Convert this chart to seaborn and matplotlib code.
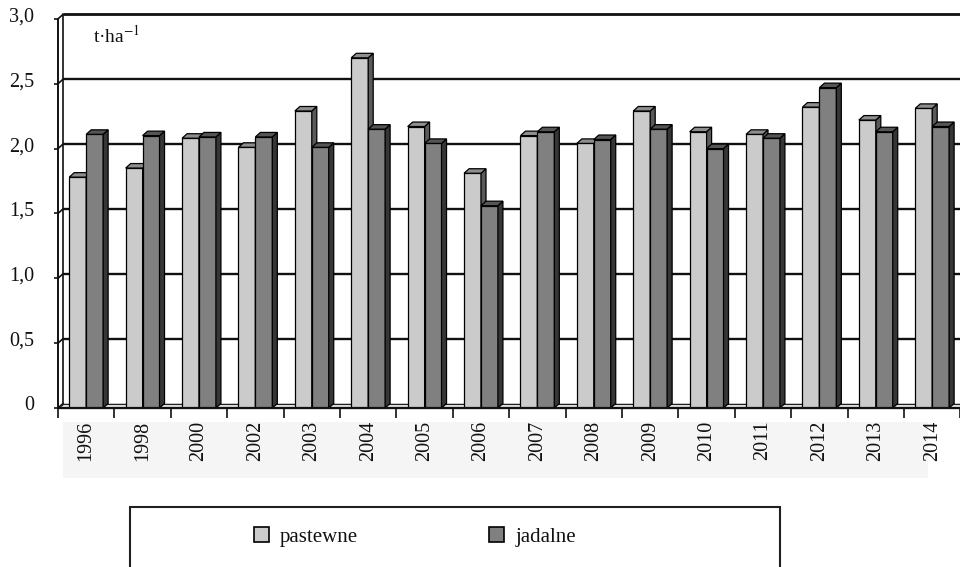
import numpy as np
import pandas as pd
import matplotlib
matplotlib.use("Agg")
import matplotlib.pyplot as plt
import matplotlib.transforms as mtransforms
from matplotlib.patches import Polygon, Rectangle, Patch
import seaborn as sns

# Yields (t/ha) by year for the two groups
years = ["1996", "1998", "2000", "2002", "2003", "2004", "2005", "2006",
         "2007", "2008", "2009", "2010", "2011", "2012", "2013", "2014"]
pastewne = [1.78, 1.85, 2.08, 2.01, 2.29, 2.70, 2.17, 1.81,
            2.10, 2.04, 2.29, 2.13, 2.11, 2.32, 2.22, 2.31]
jadalne = [2.11, 2.10, 2.09, 2.09, 2.01, 2.15, 2.04, 1.56,
           2.13, 2.07, 2.15, 2.00, 2.08, 2.47, 2.13, 2.17]
series = ["pastewne", "jadalne"]
y_ticks = [0, 0.5, 1.0, 1.5, 2.0, 2.5, 3.0]
y_tick_labels = ["0", "0,5", "1,0", "1,5", "2,0", "2,5", "3,0"]
unit_label = "t·ha$^{-1}$"

front_colors = {"pastewne": "#cbcbcb", "jadalne": "#808080"}
top_colors = {"pastewne": "#8e8e8e", "jadalne": "#555555"}
side_colors = {"pastewne": "#5a5a5a", "jadalne": "#363636"}

df = pd.DataFrame({
    "rok": years * 2,
    "plon": pastewne + jadalne,
    "rodzaj": ["pastewne"] * len(years) + ["jadalne"] * len(years),
})

sns.set_theme(style="white")
plt.rcParams["font.family"] = ["Liberation Serif", "DejaVu Serif"]
plt.rcParams["mathtext.fontset"] = "stix"

W, H = 960, 567
fig = plt.figure(figsize=(W / 100, H / 100), dpi=100)
# plot area in pixels: x from 58 to 960.4, front floor at y=408, top at 18.9
ax = fig.add_axes([58 / W, (H - 408) / H, 902.4 / W, 389.1 / H])

sns.barplot(data=df, x="rok", y="plon", hue="rodzaj", order=years,
            hue_order=series, palette=front_colors, width=0.6,
            saturation=1, edgecolor="black", linewidth=0.9,
            legend=False, ax=ax, zorder=3)

n = len(years)
ax.set_xlim(-0.5, n - 0.5)
ax.set_ylim(0, 3)
for s in ax.spines.values():
    s.set_visible(False)
ax.set_xlabel("")
ax.set_ylabel("")

# perspective depth (5 px right, 4.5 px up) in data units
DX = 5.0 / (902.4 / n)
DY = 4.5 / (389.1 / 3)
xr = n + 1.0  # walls run past the right edge of the figure

# back wall gridlines
for yv in y_ticks:
    lw = 2.0 if yv == 3.0 else (1.0 if yv == 0 else 1.7)
    ax.plot([-0.5 + DX, xr], [yv + DY, yv + DY], color="#111111", lw=lw,
            clip_on=False, zorder=1, solid_capstyle="butt")
    # connectors on the left side wall
    ax.plot([-0.5, -0.5 + DX], [yv, yv + DY], color="#111111", lw=1.2,
            clip_on=False, zorder=1)
# left side wall edges
ax.plot([-0.5, -0.5], [0, 3], color="#111111", lw=1.4, clip_on=False, zorder=1)
ax.plot([-0.5 + DX, -0.5 + DX], [DY, 3 + DY], color="#111111", lw=1.2,
        clip_on=False, zorder=1)
# floor strip
ax.add_patch(Polygon([(-0.5, 0), (xr, 0), (xr, DY), (-0.5 + DX, DY)],
                     closed=True, facecolor="#e6e6e6", edgecolor="#202020",
                     lw=0.8, clip_on=False, zorder=1.5))

# side and top faces of every bar
for k, (cont, name) in enumerate(zip(ax.containers, series)):
    for bar in cont:
        x0 = bar.get_x()
        x1 = x0 + bar.get_width()
        h = bar.get_height()
        bar.set_zorder(3 + 2 * k)
        side = Polygon([(x1, 0), (x1 + DX, DY), (x1 + DX, h + DY), (x1, h)],
                       closed=True, facecolor=side_colors[name],
                       edgecolor="black", lw=0.9, zorder=3.5 + 2 * k)
        top = Polygon([(x0, h), (x1, h), (x1 + DX, h + DY), (x0 + DX, h + DY)],
                      closed=True, facecolor=top_colors[name],
                      edgecolor="black", lw=0.9, zorder=3.6 + 2 * k)
        ax.add_patch(side)
        ax.add_patch(top)

# front floor edge (x axis)
ax.plot([-0.5, xr], [0, 0], color="#111111", lw=1.6, clip_on=False, zorder=8)

# ticks and labels
ax.set_xticks(range(n))
ax.set_xticklabels(years, rotation=90, fontsize=14.5)
ax.set_xticks(np.arange(-0.5, n, 1.0), minor=True)
ax.tick_params(axis="x", which="major", length=0, pad=9)
ax.tick_params(axis="x", which="minor", length=7, width=1.2, color="#111111",
               direction="out", bottom=True)
ax.set_yticks(y_ticks)
ax.set_yticklabels(y_tick_labels, fontsize=14.5)
ax.tick_params(axis="y", which="major", length=3, width=1.2, color="#111111",
               direction="out", left=True, pad=14)
shift = mtransforms.ScaledTranslation(0, 4.5 / 100, fig.dpi_scale_trans)
for lab in ax.get_yticklabels():
    lab.set_transform(lab.get_transform() + shift)
for lab in ax.get_xticklabels() + ax.get_yticklabels():
    lab.set_color("#111111")

# unit label
ax.text(0.12, 2.87, unit_label, fontsize=14, color="#111111",
        ha="left", va="center", zorder=9)

# faint panel behind the year labels
fig.add_artist(Rectangle((63 / W, 1 - 478 / H), 865 / W, 56 / H,
                         transform=fig.transFigure, facecolor="#f5f5f5",
                         edgecolor="none", zorder=-1))

# legend box and entries
fig.add_artist(Rectangle((130 / W, -0.05), 650 / W, (H - 507) / H + 0.05,
                         transform=fig.transFigure, facecolor="white",
                         edgecolor="#202020", lw=1.5, zorder=1))
handles = [Patch(facecolor=front_colors[s], edgecolor="black", lw=1.2)
           for s in series]
leg = fig.legend(handles, series, loc="center left",
                 bbox_to_anchor=(254 / W, 1 - 537 / H), ncol=2, frameon=False,
                 fontsize=15, handlelength=0.7, handleheight=0.7,
                 handletextpad=0.55, columnspacing=6.3, borderpad=0,
                 borderaxespad=0)
leg.set_zorder(2)
for t in leg.get_texts():
    t.set_color("#111111")

fig.savefig("out.png", dpi=100)
